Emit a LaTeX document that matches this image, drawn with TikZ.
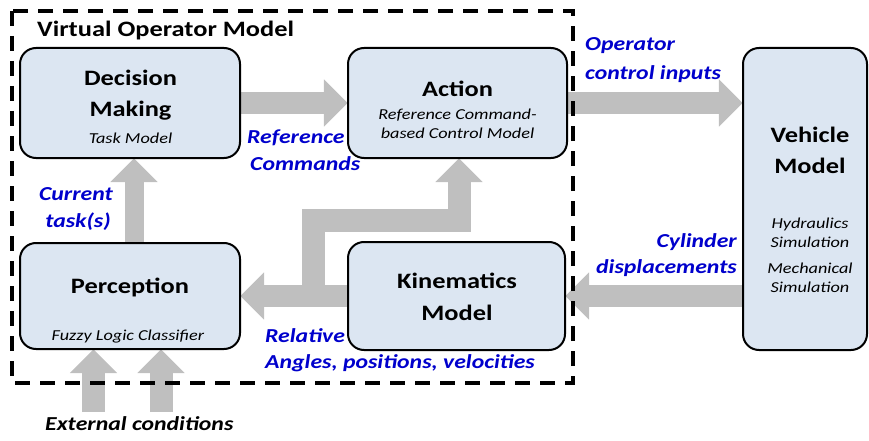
\documentclass[tikz,border=0pt]{standalone}
\usepackage{fontspec}
\setmainfont{Carlito}[FakeStretch=1.2]
\usetikzlibrary{arrows.meta,calc}
\definecolor{boxfill}{HTML}{DCE6F2}
\definecolor{arrowgray}{HTML}{BFBFBF}
\definecolor{lblblue}{HTML}{0000CC}
\tikzset{
  blockbox/.style={draw=black, line width=2pt, fill=boxfill, rounded corners=16pt, inner sep=0pt},
  blk/.style={draw=arrowgray, line width=#1, line join=miter, -{Triangle[length=24pt,width=46pt]}},
  blk/.default=22pt,
  ttl/.style={font=\fontsize{22}{26}\selectfont\bfseries, anchor=base, inner sep=0pt},
  sub/.style={font=\fontsize{15.2}{18}\selectfont\itshape, anchor=base, inner sep=0pt},
  lbl/.style={font=\fontsize{19.8}{23}\selectfont\bfseries\itshape, text=lblblue, inner sep=0pt},
  frame/.style={draw=black, line width=3.5pt, dash pattern=on 15pt off 10pt}
}
\begin{document}
\begin{tikzpicture}[x=1pt,y=-1pt]
\useasboundingbox (0,0) rectangle (869,441);
% box positions (coordinates only)
\coordinate (dmc) at (130,103);
\coordinate (actc) at (457.5,103);
\coordinate (percc) at (130,296);
\coordinate (kinc) at (456.5,296);
\coordinate (vehc) at (805,199);
% invisible placeholders for anchors
\path (dmc) node[minimum width=220pt, minimum height=110pt, inner sep=0pt] (dm) {};
\path (actc) node[minimum width=219pt, minimum height=110pt, inner sep=0pt] (act) {};
\path (percc) node[minimum width=220pt, minimum height=106pt, inner sep=0pt] (perc) {};
\path (kinc) node[minimum width=217pt, minimum height=108pt, inner sep=0pt] (kin) {};
\path (vehc) node[minimum width=124pt, minimum height=302pt, inner sep=0pt] (veh) {};
% connector helper coordinates
\coordinate (ct1) at ($(perc.north)+(4,0)$);
\coordinate (ct2) at ($(dm.south)+(4,0)$);
\coordinate (br) at (313,296);
\coordinate (brA) at (313,220);
\coordinate (brB) at (459,220);
\coordinate (e1s) at (93.5,412);
\coordinate (e2s) at (161,412);
% block arrows
\draw[blk] (dm.east) -- (act.west);
\draw[blk=19pt] (ct1) -- (ct2);
\draw[blk] (act.east) -- (veh.west |- act.east);
\draw[blk] (veh.west |- kin.east) -- (kin.east);
\draw[blk] (kin.west) -- (perc.east);
\draw[blk=23pt] (br) -- (brA) -- (brB) -- (brB |- act.south);
\draw[blk=23pt] (e1s) -- (e1s |- perc.south);
\draw[blk=23pt] (e2s) -- (e2s |- perc.south);
% dashed frame
\draw[frame] (12,11) rectangle (573,383);
% boxes
\node[blockbox, minimum width=220pt, minimum height=110pt] (dmb) at (dmc) {};
\node[blockbox, minimum width=219pt, minimum height=110pt] (actb) at (actc) {};
\node[blockbox, minimum width=220pt, minimum height=106pt] (percb) at (percc) {};
\node[blockbox, minimum width=217pt, minimum height=108pt] (kinb) at (kinc) {};
\node[blockbox, minimum width=124pt, minimum height=302pt] (vehb) at (vehc) {};
% texts
\node[font=\fontsize{22}{26}\selectfont\bfseries, anchor=base west, inner sep=0pt] (title) at (37,37) {Virtual Operator Model};
\node[ttl] (dm1) at (130.5,86) {Decision};
\node[ttl] (dm2) at (130.5,117) {Making};
\node[sub] (dm3) at (130.5,143) {Task Model};
\node[ttl] (ac1) at (457.5,97) {Action};
\node[sub] (ac2) at (457.5,120) {Reference Command-};
\node[sub] (ac3) at (457.5,139) {based Control Model};
\node[ttl] (pc1) at (130,293) {Perception};
\node[sub] (pc2) at (128,340) {Fuzzy Logic Classifier};
\node[ttl] (kn1) at (457,288) {Kinematics};
\node[ttl] (kn2) at (457,320) {Model};
\node[ttl] (vh1) at (810,142) {Vehicle};
\node[ttl] (vh2) at (810,173) {Model};
\node[sub] (vh3) at (810,228) {Hydraulics};
\node[sub] (vh4) at (810,247) {Simulation};
\node[sub] (vh5) at (810,273) {Mechanical};
\node[sub] (vh6) at (810,292) {Simulation};
% labels
\node[lbl, anchor=base west] (rc1) at (247,143) {Reference};
\node[lbl, anchor=base west] (rc2) at (250,170) {Commands};
\node[lbl, anchor=base] (cu1) at (76,200) {Current};
\node[lbl, anchor=base] (cu2) at (78,227) {task(s)};
\node[lbl, anchor=base west] (rl1) at (265,342) {Relative};
\node[lbl, anchor=base west] (rl2) at (265,368) {Angles, positions, velocities};
\node[lbl, anchor=base west] (op1) at (585,51) {Operator};
\node[lbl, anchor=base west] (op2) at (585,80) {control inputs};
\node[lbl, anchor=base east] (cy1) at (737,247) {Cylinder};
\node[lbl, anchor=base east] (cy2) at (737,273) {displacements};
\node[font=\fontsize{19.8}{23}\selectfont\bfseries\itshape, anchor=base west, inner sep=0pt] (ext) at (45,430) {External conditions};
\end{tikzpicture}
\end{document}
